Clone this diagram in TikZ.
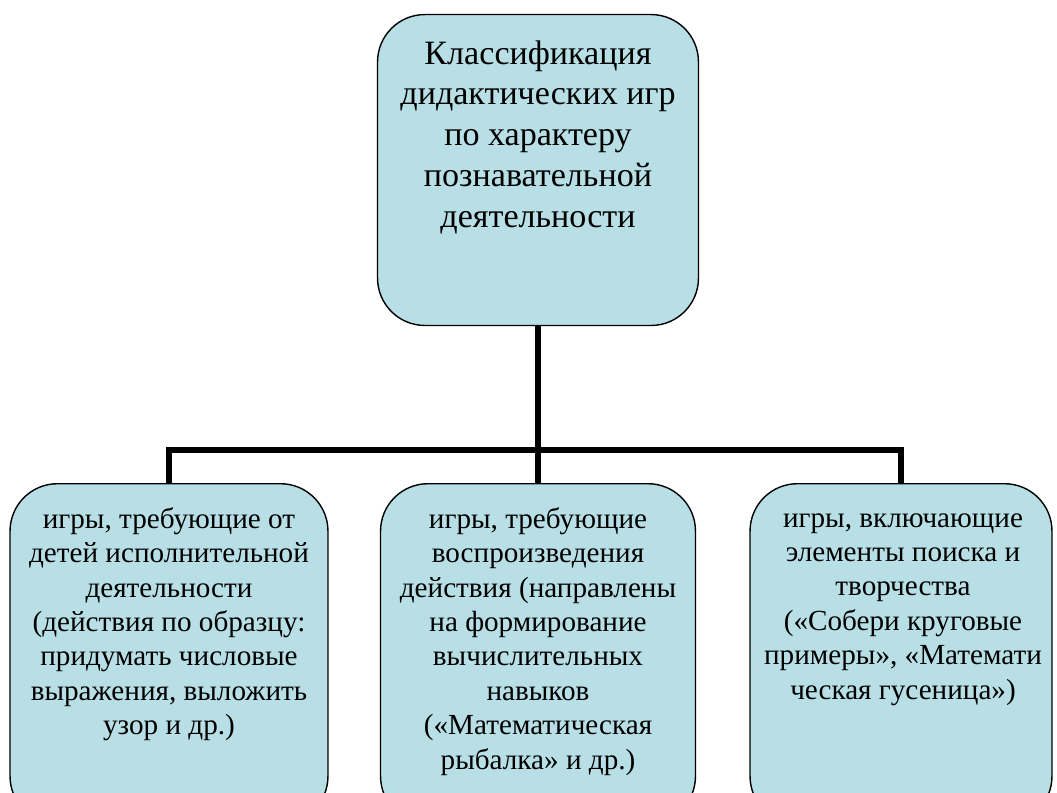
\documentclass[tikz,border=0pt]{standalone}
\usepackage{fontspec}
\setmainfont{Liberation Serif}
\definecolor{BoxColor}{RGB}{184,223,229}
\usepackage{tikz}
\usetikzlibrary{positioning, calc}
\tikzstyle{box} = [rectangle, rounded corners=27pt, draw=black, line width=0.8pt, fill=BoxColor]
\tikzstyle{rootbox} = [box, minimum width=6.42cm, minimum height=6.22cm]
\tikzstyle{leafbox} = [box, minimum height=6.8cm]
\tikzstyle{roottext} = [inner sep=0pt, align=center, font={\fontsize{19.4pt}{23.2pt}\selectfont}]
\tikzstyle{leaftext} = [inner sep=0pt, align=center, font={\fontsize{16.6pt}{19.6pt}\selectfont}]
\tikzstyle{link} = [line width=3.4pt, black]

\begin{document}
\begin{tikzpicture}[x=0.02cm, y=-0.02cm]
    \path[use as bounding box, clip] (0,0) rectangle (1057,792);
    % boxes
    \node[rootbox] (top) at (538,170) {};
    \node[leafbox, minimum width=6.36cm, anchor=north] (left) at (169,483) {};
    \node[leafbox, minimum width=6.3cm, anchor=north] (middle) at (538,483) {};
    \node[leafbox, minimum width=6.04cm, anchor=north] (right) at (901,483) {};
    % texts
    \node[roottext, anchor=north] (toptext) at (538,40) {Классификация\\дидактических игр\\по характеру\\познавательной\\деятельности};
    \node[leaftext, anchor=north] (lefttext) at (169,507) {игры, требующие от\\детей исполнительной\\деятельности\\(действия по образцу:\\придумать числовые\\выражения, выложить\\узор и др.)};
    \node[leaftext, anchor=north] (middletext) at (538,507) {игры, требующие\\воспроизведения\\действия (направлены\\на формирование\\вычислительных\\навыков\\(«Математическая\\рыбалка» и др.)};
    \node[leaftext, anchor=north] (righttext) at (903,513) {игры, включающие\\элементы поиска и\\творчества\\(«Собери круговые\\примеры», «Математи\\ческая гусеница»)};
    % connectors
    \coordinate (bus) at (538,450);
    \draw[link] (top.south) -- (bus);
    \draw[link] (left.north) |- (right.north |- bus) -- (right.north);
    \draw[link] (bus) -- (middle.north);
\end{tikzpicture}
\end{document}
